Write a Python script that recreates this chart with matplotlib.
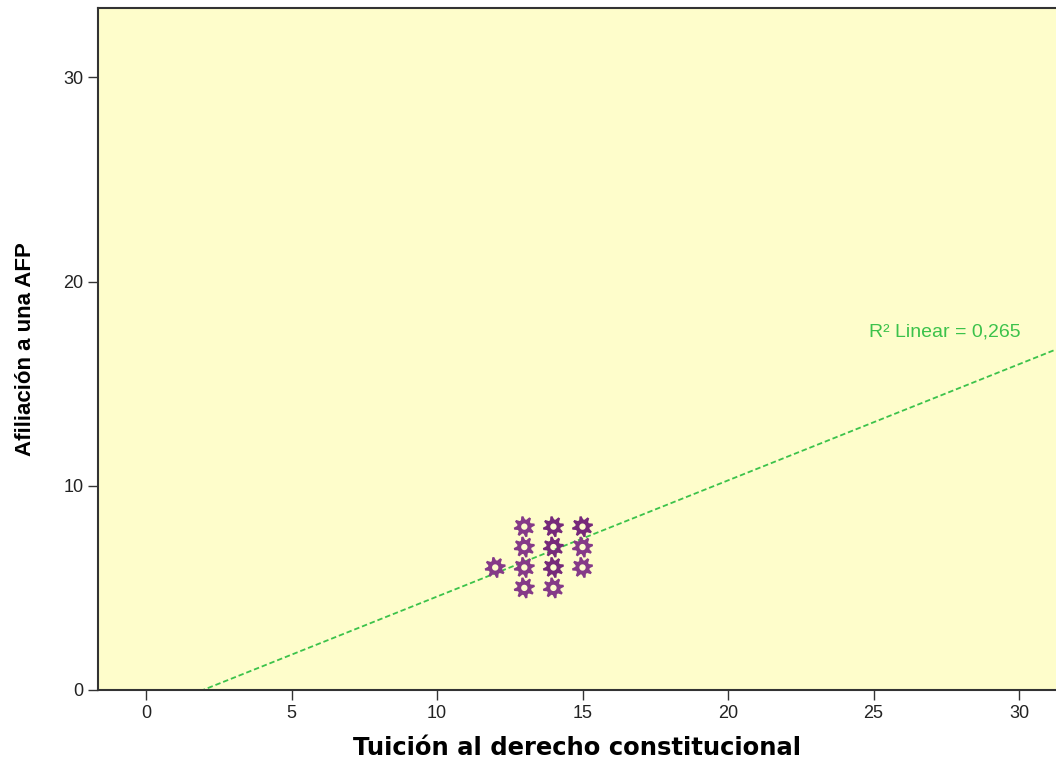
import numpy as np
import matplotlib.pyplot as plt
from matplotlib.path import Path

# puntos (tuicion, afiliacion); los repetidos se ven mas oscuros
tuicion = [12, 13, 13, 13, 13, 14, 14, 14, 14, 15, 15, 15]
afiliacion = [6, 8, 7, 6, 5, 8, 7, 6, 5, 8, 7, 6]
repetidos = [1, 1, 1, 1, 1, 2, 2, 2, 1, 2, 1, 1]

# recta de ajuste
pendiente = 0.569
intercepto = -1.115
r2 = "0,265"

xticks = [0, 5, 10, 15, 20, 25, 30]
yticks = [0, 10, 20, 30]

plt.rcParams["font.family"] = ["Liberation Sans", "DejaVu Sans"]

# marcador tipo engranaje con agujero
n = 8
ang = np.linspace(0, 2 * np.pi, 4 * n, endpoint=False)
rad = np.tile([1.0, 1.0, 0.68, 0.68], n)
ang = ang + np.pi / (4 * n)
outer = np.c_[rad * np.cos(ang), rad * np.sin(ang)]
t = np.linspace(0, 2 * np.pi, 24)
inner = np.c_[0.3 * np.cos(t), 0.3 * np.sin(t)][::-1]
verts = np.vstack([outer, outer[:1], inner, inner[:1]])
codes = ([Path.MOVETO] + [Path.LINETO] * (len(outer) - 1) + [Path.CLOSEPOLY]
         + [Path.MOVETO] + [Path.LINETO] * (len(inner) - 1) + [Path.CLOSEPOLY])
gear = Path(verts, codes)

fig = plt.figure(figsize=(10.56, 7.62), dpi=100)
ax = fig.add_axes([0.0928, 0.0945, 0.9072, 0.895])
ax.set_facecolor("#fefdcb")

ax.set_xlim(-1.65, 31.27)
ax.set_ylim(0, 33.4)

xs = np.array([0, 31.27])
ax.plot(xs, pendiente * xs + intercepto, color="#3cc24b", linestyle=(0, (3, 1.6)),
        linewidth=1.3, zorder=2)
ax.text(27.46, 17.55, "R² Linear = " + r2, color="#3cc24b", fontsize=14,
        ha="center", va="center")

for x, y, k in zip(tuicion, afiliacion, repetidos):
    ax.scatter(x, y, marker=gear, s=230, color="#76297a" if k > 1 else "#853a88",
               edgecolors="none", zorder=3)

ax.set_xticks(xticks)
ax.set_yticks(yticks)
ax.tick_params(direction="out", length=7, width=1, labelsize=13, color="#333333",
               labelcolor="#222222")
ax.tick_params(axis="x", pad=4)
for s in ["left", "bottom", "top"]:
    ax.spines[s].set_linewidth(1.5)
    ax.spines[s].set_color("#333333")
ax.spines["right"].set_visible(False)

ax.set_xlabel("Tuición al derecho constitucional", fontsize=17.5, fontweight="bold",
              family=["DejaVu Sans"], labelpad=10)
ax.set_ylabel("Afiliación a una AFP", fontsize=16, fontweight="bold", labelpad=20)

plt.savefig("out.png", dpi=100, facecolor="white")
